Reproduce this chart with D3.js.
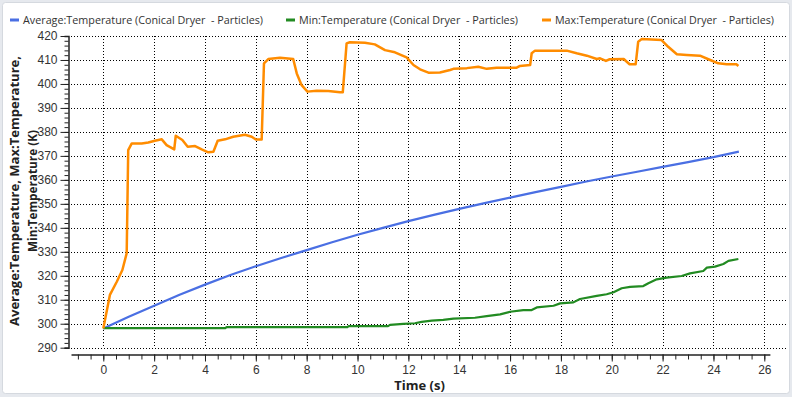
<!DOCTYPE html>
<html>
<head>
<meta charset="utf-8">
<script src="https://cdn.jsdelivr.net/npm/d3@7"></script>
<style>
  body { margin: 0; background: #e6e9ee; }
  svg { display: block; font-family: "Segoe UI", "Open Sans", sans-serif; }
  .grid line { stroke: #000; stroke-dasharray: 1 2; stroke-width: 1; }
  .tick text { fill: #333; font-size: 12px; }
  .axis path, .axis line { stroke: #222; }
</style>
</head>
<body>
<div id="chart"></div>
<script>

const seriesNames = [
  "Average:Temperature (Conical Dryer  - Particles)",
  "Min:Temperature (Conical Dryer  - Particles)",
  "Max:Temperature (Conical Dryer  - Particles)"
];
const seriesColors = ["#4a6fe3", "#228b22", "#ff8c00"];

const xTicks = [0, 2, 4, 6, 8, 10, 12, 14, 16, 18, 20, 22, 24, 26];
const yTicks = [290, 300, 310, 320, 330, 340, 350, 360, 370, 380, 390, 400, 410, 420];

const avgTime = [0, 1, 2, 3, 4, 5, 6, 7, 8, 9, 10, 11, 12, 13, 14, 15, 16, 17, 18, 19, 20, 21, 22, 23, 24, 25];
const avgTemp = [298, 302.9, 307.5, 312.1, 316.3, 320.3, 324.0, 327.4, 330.7, 334.0, 337.1, 340.0, 342.8,
  345.4, 347.9, 350.3, 352.6, 354.9, 357.1, 359.3, 361.4, 363.4, 365.4, 367.4, 369.5, 371.8];

const minTime = [0, 4.8, 4.85, 9.6, 9.65, 11.2, 11.28, 11.8, 12.26, 12.52, 12.92, 13.37, 13.77, 14.62, 15.08,
  15.61, 16.0, 16.52, 16.85, 17.05, 17.71, 17.97, 18.49, 18.75, 19.41, 19.8, 20.07, 20.39, 20.72, 21.24,
  21.44, 21.77, 22.16, 22.75, 23.08, 23.6, 23.74, 24.06, 24.39, 24.59, 24.98];
const minTemp = [298.2, 298.2, 298.6, 298.6, 299.0, 299.0, 299.5, 299.9, 300.2, 300.8, 301.3, 301.6, 302.1,
  302.5, 303.2, 303.9, 305.0, 305.7, 305.7, 306.8, 307.5, 308.5, 308.9, 310.3, 311.6, 312.3, 313.1, 314.8,
  315.4, 315.7, 316.9, 318.5, 319.2, 319.9, 321.0, 322.0, 323.4, 323.8, 324.9, 326.2, 327.0];

const maxTime = [0, 0.26, 0.53, 0.75, 0.92, 0.98, 1.12, 1.51, 1.77, 2.03, 2.3, 2.49, 2.79, 2.85, 3.11, 3.32,
  3.61, 3.87, 4.13, 4.33, 4.5, 4.79, 5.11, 5.57, 5.84, 6.0, 6.23, 6.32, 6.49, 6.95, 7.47, 7.61, 7.8, 8.03,
  8.39, 8.85, 9.31, 9.42, 9.57, 9.7, 10.29, 10.68, 11.08, 11.47, 11.93, 12.2, 12.46, 12.79, 13.24, 13.64,
  13.77, 14.3, 14.75, 15.08, 15.47, 16.26, 16.39, 16.79, 16.85, 16.98, 18.23, 18.62, 19.02, 19.41, 19.54,
  19.77, 19.92, 20.47, 20.7, 20.94, 21.04, 21.18, 21.96, 22.22, 22.56, 22.95, 23.47, 23.87, 24.19, 24.52,
  24.91, 24.98];
const maxTemp = [298, 312, 317.5, 322.4, 329.4, 372.4, 375.2, 375.2, 375.6, 376.3, 376.9, 374.5, 372.7, 378.4,
  376.6, 373.8, 374.1, 372.7, 371.5, 371.7, 376.3, 376.9, 378.0, 378.8, 378.0, 376.8, 376.8, 408.6, 410.4,
  410.9, 410.4, 404.4, 399.5, 396.8, 397.2, 397.1, 396.5, 396.5, 416.9, 417.4, 417.2, 416.5, 414.1, 413.2,
  411.1, 407.9, 406.1, 404.7, 404.8, 405.8, 406.3, 406.6, 407.2, 406.3, 406.8, 406.8, 407.5, 407.9, 412.8,
  413.9, 413.9, 412.8, 411.8, 410.4, 410.7, 409.6, 410.3, 410.4, 408.2, 408.2, 417.6, 418.7, 418.3, 415.5,
  412.4, 412.1, 411.8, 410.0, 408.6, 408.2, 408.2, 407.5];

const width = 792;
const height = 397;
const plot = { left: 68, right: 788, top: 36, bottom: 347.7 };

const x = d3.scaleLinear()
  .domain([0, 26])
  .range([103.3, 764.3]);

const y = d3.scaleLinear()
  .domain([290, 420])
  .range([plot.bottom, plot.top]);

const svg = d3.select("#chart")
  .append("svg")
  .attr("width", width)
  .attr("height", height);

// panel
svg.append("rect")
  .attr("x", 2.5).attr("y", 2.5)
  .attr("width", width - 5).attr("height", height - 6)
  .attr("rx", 3)
  .attr("fill", "#fff")
  .attr("stroke", "#d5d9df");

// grid
const grid = svg.append("g").attr("class", "grid");

grid.selectAll(".h")
  .data(yTicks)
  .join("line")
  .attr("x1", plot.left)
  .attr("x2", plot.right)
  .attr("y1", d => Math.round(y(d)) + 0.5)
  .attr("y2", d => Math.round(y(d)) + 0.5);

grid.selectAll(".v")
  .data(xTicks)
  .join("line")
  .attr("x1", d => Math.round(x(d)) + 0.5)
  .attr("x2", d => Math.round(x(d)) + 0.5)
  .attr("y1", plot.top)
  .attr("y2", plot.bottom);

// y axis, minor ticks every 2 K
const yAxis = svg.append("g")
  .attr("class", "axis")
  .attr("transform", `translate(${plot.left + 0.5},0)`);

yAxis.call(d3.axisLeft(y)
  .tickValues(d3.range(290, 421, 2))
  .tickSize(4)
  .tickFormat(""));

const yMajor = svg.append("g")
  .attr("class", "axis")
  .attr("transform", `translate(${plot.left + 0.5},0)`)
  .call(d3.axisLeft(y).tickValues(yTicks).tickSize(8).tickPadding(3));
yMajor.select(".domain").remove();

// x axis sits a bit below the plot, minor ticks every 0.5 s
const xAxisScale = x.copy()
  .domain([-1.27, 26.22])
  .range([x(-1.27), x(26.22)]);

const xAxisY = 354.5;

svg.append("g")
  .attr("class", "axis")
  .attr("transform", `translate(0,${xAxisY})`)
  .call(d3.axisBottom(xAxisScale)
    .tickValues(d3.range(-1, 26.01, 0.5))
    .tickSize(5)
    .tickSizeOuter(0)
    .tickFormat(""));

const xMajor = svg.append("g")
  .attr("class", "axis")
  .attr("transform", `translate(0,${xAxisY})`)
  .call(d3.axisBottom(xAxisScale)
    .tickValues(xTicks)
    .tickSize(7)
    .tickPadding(4));
xMajor.select(".domain").remove();

svg.selectAll(".axis path.domain").attr("stroke-width", 1.5);

// axis titles
svg.append("text")
  .attr("x", 419.5)
  .attr("y", 390)
  .attr("text-anchor", "middle")
  .attr("font-weight", "bold")
  .attr("font-size", 13)
  .attr("fill", "#222")
  .text("Time (s)");

const yTitle = svg.append("text")
  .attr("transform", "translate(0,191) rotate(-90)")
  .attr("text-anchor", "middle")
  .attr("font-weight", "bold")
  .attr("font-size", 13)
  .attr("fill", "#222");

yTitle.append("tspan")
  .attr("x", 0).attr("y", 19)
  .attr("textLength", 270)
  .attr("lengthAdjust", "spacingAndGlyphs")
  .text("Average:Temperature, Max:Temperature,");

yTitle.append("tspan")
  .attr("x", 0).attr("y", 37)
  .attr("textLength", 122)
  .attr("lengthAdjust", "spacingAndGlyphs")
  .text("Min:Temperature (K)");

// series
const line = d3.line()
  .x(d => x(d[0]))
  .y(d => y(d[1]));

const series = [
  d3.zip(avgTime, avgTemp),
  d3.zip(minTime, minTemp),
  d3.zip(maxTime, maxTemp)
];

svg.append("g")
  .selectAll("path")
  .data(series)
  .join("path")
  .attr("d", line)
  .attr("fill", "none")
  .attr("stroke", (d, i) => seriesColors[i])
  .attr("stroke-width", (d, i) => i === 2 ? 2.5 : 2.2)
  .attr("stroke-linejoin", "round");

// legend
const legendX = [10, 286, 542];
const legendW = [240, 219, 219];

const legend = svg.append("g")
  .selectAll("g")
  .data(seriesNames)
  .join("g")
  .attr("transform", (d, i) => `translate(${legendX[i]},20)`);

legend.append("line")
  .attr("x1", 0).attr("x2", 9)
  .attr("stroke", (d, i) => seriesColors[i])
  .attr("stroke-width", 3);

legend.append("text")
  .attr("x", 13)
  .attr("y", 4)
  .attr("font-size", 11.2)
  .attr("fill", "#333")
  .attr("textLength", (d, i) => legendW[i])
  .attr("lengthAdjust", "spacingAndGlyphs")
  .style("white-space", "pre")
  .text(d => d);

</script>
</body>
</html>
